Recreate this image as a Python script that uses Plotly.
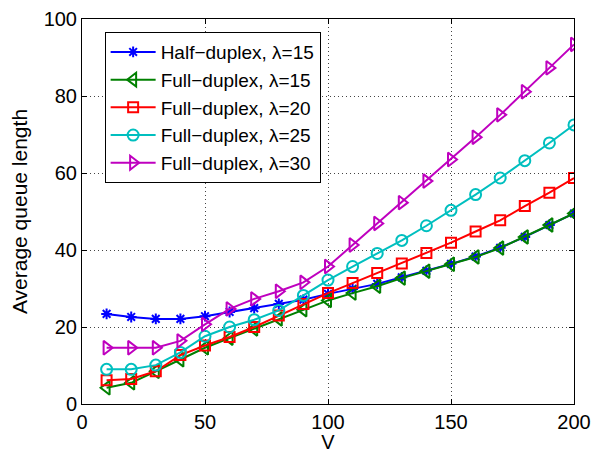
import plotly.graph_objects as go

V = [10, 20, 30, 40, 50, 60, 70, 80, 90, 100, 110, 120, 130, 140, 150, 160, 170, 180, 190, 200]
half_15 = [23.4, 22.6, 22.1, 22.1, 22.8, 23.9, 24.9, 26.0, 27.1, 28.6, 29.9, 31.2, 32.9, 34.6, 36.4, 38.3, 40.6, 43.4, 46.5, 49.5]
full_15 = [4.2, 5.5, 8.5, 11.5, 14.6, 17.1, 19.5, 22.1, 24.5, 26.9, 28.8, 30.6, 32.7, 34.5, 36.3, 38.2, 40.5, 43.4, 46.5, 49.5]
full_20 = [6.2, 6.5, 8.5, 12.7, 15.2, 17.4, 20.0, 23.0, 26.0, 28.8, 31.4, 34.0, 36.5, 39.2, 41.9, 44.8, 47.7, 51.4, 54.9, 58.7]
full_25 = [9.0, 9.0, 10.1, 13.4, 17.6, 20.0, 21.9, 24.3, 28.2, 32.2, 35.7, 39.1, 42.5, 46.3, 50.3, 54.4, 58.7, 63.2, 67.8, 72.5]
full_30 = [14.6, 14.6, 14.6, 16.4, 20.7, 24.7, 27.3, 29.3, 31.6, 35.7, 41.3, 46.9, 52.3, 57.9, 63.5, 69.3, 75.1, 81.1, 87.3, 93.4]

names = ["Half\u2212duplex, \u03bb=15", "Full\u2212duplex, \u03bb=15", "Full\u2212duplex, \u03bb=20",
         "Full\u2212duplex, \u03bb=25", "Full\u2212duplex, \u03bb=30"]
series = [half_15, full_15, full_20, full_25, full_30]
colors = ["#0000FF", "#008000", "#FF0000", "#00BFBF", "#BF00BF"]
symbols = ["asterisk-open", "triangle-left-open", "square-open", "circle-open", "triangle-right-open"]
sizes = [9, 12, 10, 11, 12]

fig = go.Figure()
for n, s, c, sym, sz in zip(names, series, colors, symbols, sizes):
    fig.add_trace(go.Scatter(
        x=V, y=s, name=n, mode="lines+markers",
        line=dict(color=c, width=2),
        marker=dict(symbol=sym, size=sz, color=c, line=dict(color=c, width=2)),
    ))

axis_common = dict(
    showline=True, linecolor="black", linewidth=1, mirror="ticks",
    ticks="inside", ticklen=5, tickcolor="black", tickwidth=1,
    showgrid=True, gridcolor="#444444", griddash="1px,3px", gridwidth=1,
    zeroline=False, tickfont=dict(size=20, color="black"), automargin=False,
    ticklabeloverflow="allow",
)

# page body has an 8px margin, so the figure is sized/offset to compensate
fig.update_layout(
    width=595, height=445,
    margin=dict(l=74, r=29, t=11, b=49),
    paper_bgcolor="white", plot_bgcolor="white",
    font=dict(family="Liberation Sans, Arial, sans-serif", color="black"),
    xaxis=dict(range=[0, 200], tickvals=[0, 50, 100, 150, 200],
               title=dict(text="V", font=dict(size=20)), **axis_common),
    yaxis=dict(range=[0, 100], tickvals=[0, 20, 40, 60, 80, 100],
               title=dict(text="Average queue length", font=dict(size=21)), **axis_common),
    legend=dict(x=0.046, y=0.966, xanchor="left", yanchor="top",
                bgcolor="white", bordercolor="black", borderwidth=1,
                font=dict(size=19, color="black"), itemwidth=45),
    showlegend=True,
)

fig.write_html("out.html")
